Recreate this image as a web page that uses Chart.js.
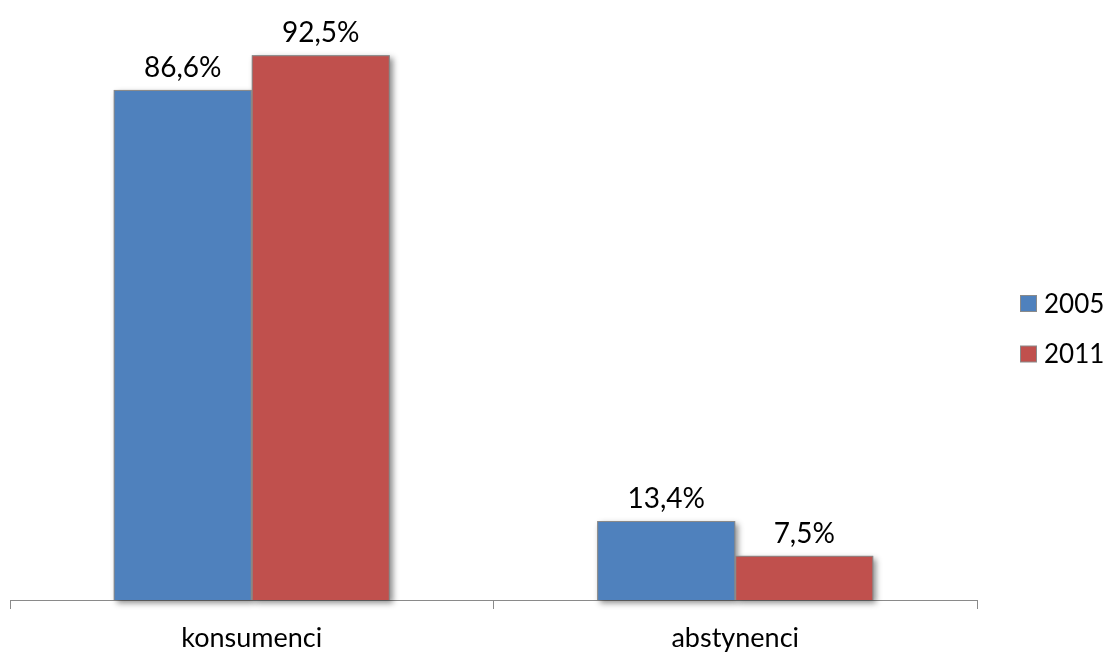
<!DOCTYPE html>
<html>
<head>
<meta charset="utf-8">
<script src="https://cdn.jsdelivr.net/npm/chart.js@4/dist/chart.umd.min.js"></script>
<style>
    html, body { margin: 0; padding: 0; background: #fff; }
    #wrap { width: 1105px; height: 656px; position: relative; }
</style>
</head>
<body>
<div id="wrap"><canvas id="chart"></canvas></div>
<script>
const categories = ['konsumenci', 'abstynenci'];
const seriesNames = ['2005', '2011'];
const values2005 = [86.6, 13.4];
const values2011 = [92.5, 7.5];
const colors = ['#4F81BD', '#C0504D'];

const FONT = 'Lato, "Open Sans", sans-serif';

// soft drop shadow under bars (drawn before the bars, which then cover it)
const barShadow = {
    id: 'barShadow',
    beforeDatasetsDraw(chart) {
        const ctx = chart.ctx;
        ctx.save();
        ctx.shadowColor = 'rgba(0,0,0,0.45)';
        ctx.shadowBlur = 6;
        ctx.shadowOffsetX = 3;
        ctx.shadowOffsetY = 3;
        ctx.fillStyle = '#888';
        chart.data.datasets.forEach((ds, i) => {
            chart.getDatasetMeta(i).data.forEach(bar => {
                const { x, y, width, base } = bar.getProps(['x', 'y', 'width', 'base'], true);
                ctx.fillRect(x - width / 2, y, width, base - y);
            });
        });
        ctx.restore();
    }
};

// value labels above each bar
const valueLabels = {
    id: 'valueLabels',
    afterDatasetsDraw(chart) {
        const ctx = chart.ctx;
        ctx.save();
        ctx.font = '28px ' + FONT;
        ctx.fillStyle = '#000';
        ctx.textAlign = 'center';
        ctx.textBaseline = 'alphabetic';
        chart.data.datasets.forEach((ds, i) => {
            chart.getDatasetMeta(i).data.forEach((bar, j) => {
                const txt = ds.data[j].toFixed(1).replace('.', ',') + '%';
                ctx.fillText(txt, bar.x, bar.y - 13);
            });
        });
        ctx.restore();
    }
};

// legend on the right, drawn from the dataset labels/colours
const sideLegend = {
    id: 'sideLegend',
    afterDraw(chart) {
        const ctx = chart.ctx;
        ctx.save();
        ctx.font = '26px ' + FONT;
        ctx.textBaseline = 'middle';
        ctx.textAlign = 'left';
        chart.data.datasets.forEach((ds, i) => {
            const cy = 303.5 + i * 50.5;
            ctx.fillStyle = ds.backgroundColor;
            ctx.fillRect(1020.5, cy - 8, 16, 16);
            ctx.strokeStyle = '#8a8a8a';
            ctx.lineWidth = 1;
            ctx.strokeRect(1020.5, cy - 8, 16, 16);
            ctx.fillStyle = '#000';
            ctx.fillText(ds.label, 1044, cy + 1);
        });
        ctx.restore();
    }
};

new Chart(document.getElementById('chart'), {
    type: 'bar',
    data: {
        labels: categories,
        datasets: [
            { label: seriesNames[0], data: values2005, backgroundColor: colors[0] },
            { label: seriesNames[1], data: values2011, backgroundColor: colors[1] }
        ].map(d => ({ ...d, borderColor: '#8a8a8a', borderWidth: 1, categoryPercentage: 0.571, barPercentage: 1 }))
    },
    options: {
        responsive: true,
        maintainAspectRatio: false,
        animation: false,
        layout: { padding: { left: 10, top: 11, right: 128, bottom: 0 } },
        scales: {
            x: {
                grid: { offset: true, drawOnChartArea: false, drawTicks: true, tickLength: 9, color: '#8a8a8a', lineWidth: 1 },
                border: { display: true, color: '#8a8a8a', width: 1 },
                ticks: { font: { family: FONT, size: 27 }, color: '#000', padding: 13 },
                afterFit: s => { s.height = 56; }
            },
            y: { display: false, min: 0, max: 100 }
        },
        plugins: {
            legend: { display: false },
            tooltip: { enabled: false }
        }
    },
    plugins: [barShadow, valueLabels, sideLegend]
});
</script>
</body>
</html>
